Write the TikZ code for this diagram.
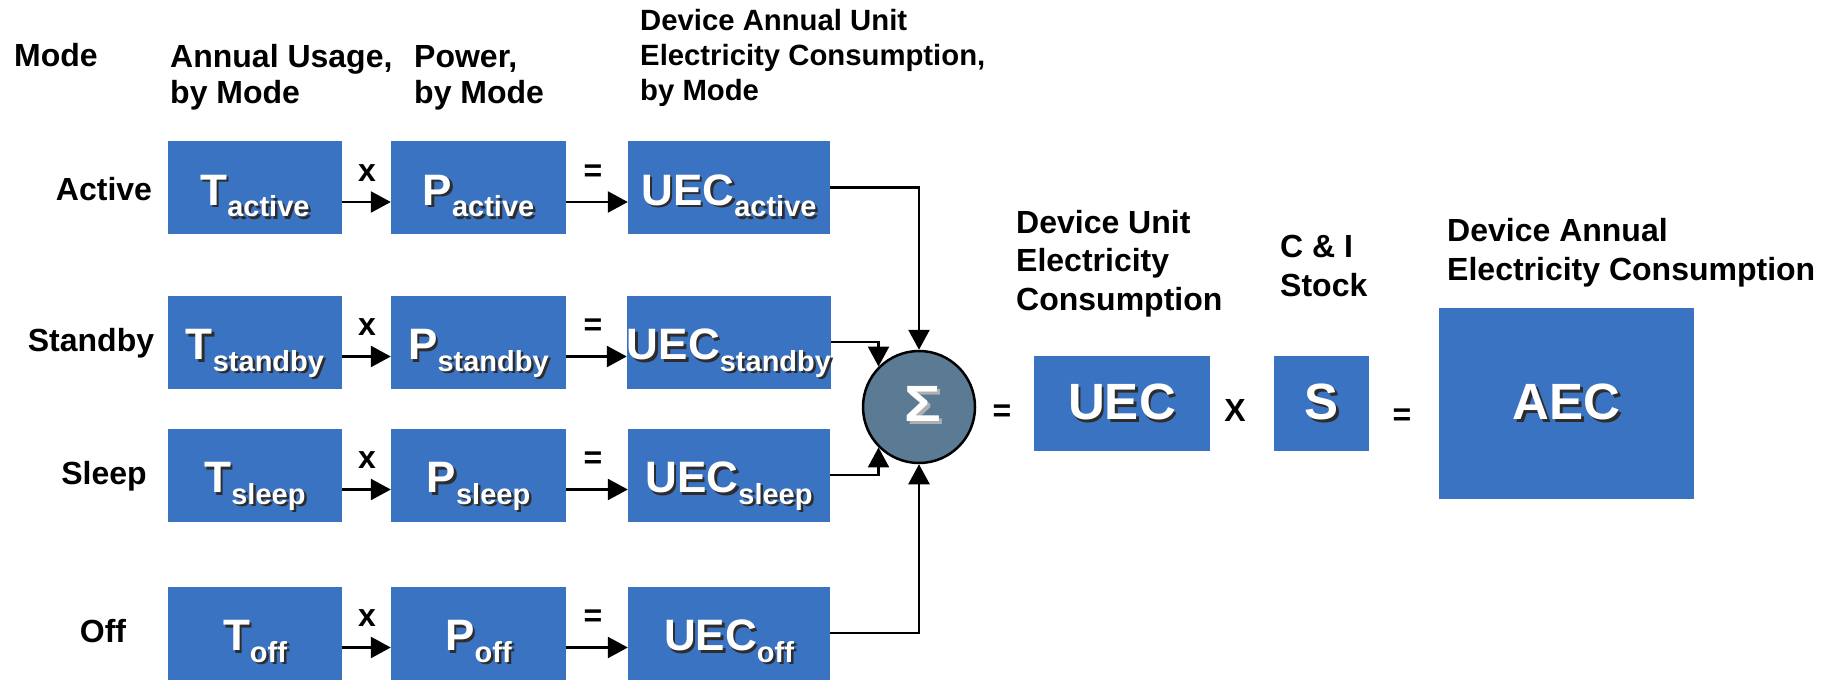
\documentclass[tikz,border=0pt]{standalone}
\usepackage{fontspec}
\setmainfont{Liberation Sans}
\usetikzlibrary{arrows.meta}
\definecolor{boxblue}{RGB}{59,115,195}
\definecolor{sigmac}{RGB}{91,122,148}
\definecolor{shadowc}{RGB}{45,45,45}
\definecolor{sigshadow}{RGB}{175,175,175}
\newcommand\emb[1]{\makebox[0pt][l]{\kern2.5pt\raisebox{-2.5pt}{\color{shadowc}#1}}#1}
\newcommand\embl[1]{\makebox[0pt][l]{\kern3pt\raisebox{-3pt}{\color{sigshadow}#1}}#1}
\newcommand\subf{\fontsize{29}{29}\selectfont}
\newcommand\vsub[1]{\raisebox{-11.5pt}{\subf #1}}
\begin{document}
\begin{tikzpicture}[x=1pt,y=-1pt,
  box/.style={fill=boxblue, inner sep=0pt, text=white, font=\fontsize{44}{44}\selectfont\bfseries},
  rowbox/.style={box, minimum height=93pt, text height=35pt, text depth=0pt},
  tbox/.style={rowbox, minimum width=174pt},
  pbox/.style={rowbox, minimum width=175pt},
  ubox/.style={rowbox, minimum width=202pt},
  bigbox/.style={box, font=\fontsize{51}{51}\selectfont\bfseries},
  lbl/.style={font=\fontsize{32}{36}\selectfont\bfseries, inner sep=0pt, align=left},
  slbl/.style={font=\fontsize{29.3}{35}\selectfont\bfseries, inner sep=0pt, align=left},
  rlbl/.style={font=\fontsize{32}{38.5}\selectfont\bfseries, inner sep=0pt, align=left},
  op/.style={font=\fontsize{32}{32}\selectfont\bfseries, inner sep=0pt},
  arr/.style={-{Triangle[length=20pt,width=21pt]}, line width=2.5pt}]
\useasboundingbox (0,0) rectangle (1838,682);

% headers (base anchor = baseline of the last line)
\node[lbl, anchor=base west] (hmode) at (14,67) {Mode};
\node[lbl, anchor=base west] (husage) at (170,104) {Annual Usage,\\by Mode};
\node[lbl, anchor=base west] (hpower) at (414,104) {Power,\\by Mode};
\node[slbl, anchor=base west] (huec) at (640,101) {Device Annual Unit\\Electricity Consumption,\\by Mode};

% mode labels
\node[lbl] (mact) at (104,189) {Active};
\node[lbl] (mstb) at (91,343) {Standby};
\node[lbl] (mslp) at (104,476) {Sleep};
\node[lbl] (moff) at (103,631) {Off};

% boxes
\node[tbox] (T1) at (255,187.5) {\emb{T\vsub{active}}};
\node[tbox] (T2) at (255,342) {\emb{T\vsub{standby}}};
\node[tbox] (T3) at (255,475) {\emb{T\vsub{sleep}}};
\node[tbox] (T4) at (255,633) {\emb{T\vsub{off}}};
\node[pbox] (P1) at (478.5,187.5) {\emb{P\vsub{active}}};
\node[pbox] (P2) at (478.5,342) {\emb{P\vsub{standby}}};
\node[pbox] (P3) at (478.5,475) {\emb{P\vsub{sleep}}};
\node[pbox] (P4) at (478.5,633) {\emb{P\vsub{off}}};
\node[ubox] (U1) at (729,187.5) {\emb{UEC\vsub{active}}};
\node[ubox] (U2) at (729,342) {\emb{UEC\vsub{standby}}};
\node[ubox] (U3) at (729,475) {\emb{UEC\vsub{sleep}}};
\node[ubox] (U4) at (729,633) {\emb{UEC\vsub{off}}};

% operators
\foreach \y in {173,327,460,618}{
  \node[op] at (367,\y) {x};
  \node[op] at (593,\y) {=};
}

% arrows between boxes
\foreach \r in {1,2,3,4}{
  \draw[arr] ([yshift=-14.5pt]T\r.east) -- ([yshift=-14.5pt]P\r.west);
  \draw[arr] ([yshift=-14.5pt]P\r.east) -- ([yshift=-14.5pt]U\r.west);
}

% sum
\node[circle, draw, fill=sigmac, minimum size=112pt, inner sep=0pt, line width=2.5pt] (sum) at (919,407) {};
\node[text=white, font=\fontsize{51}{51}\selectfont\bfseries, inner sep=0pt] (sig) at (923,405) {\embl{\scalebox{1.2}[1]{Σ}}};
\draw[arr] (U1.east) -| (sum.north);
\draw[arr] (U2.east) -| (sum.north west);
\draw[arr] (U3.east) -| (sum.south west);
\draw[arr] (U4.east) -| (sum.south);

% right part
\node[rlbl, anchor=base west] (hdu) at (1016,310) {Device Unit\\Electricity\\Consumption};
\node[rlbl, anchor=base west] (hci) at (1280,296) {C \& I\\Stock};
\node[rlbl, anchor=base west] (hae) at (1447,280) {Device Annual\\Electricity Consumption};

\node[bigbox, minimum width=176pt, minimum height=95pt] (UEC) at (1122,403.5) {\emb{UEC}};
\node[bigbox, minimum width=95pt, minimum height=95pt] (S) at (1321.5,403.5) {\emb{S}};
\node[bigbox, minimum width=255pt, minimum height=191pt] (AEC) at (1566.5,403.5) {\emb{AEC}};

\node[op] (eq1) at (1002,413) {=};
\node[op] (x1) at (1235,410) {X};
\node[op] (eq2) at (1402,417) {=};
\end{tikzpicture}
\end{document}
